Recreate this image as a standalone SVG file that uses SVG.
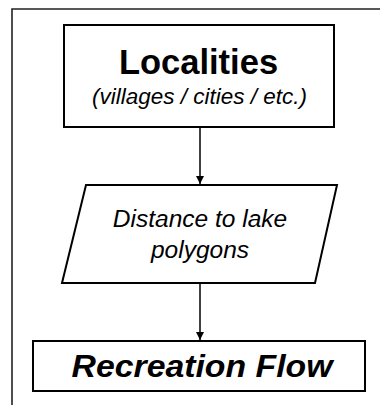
<svg xmlns="http://www.w3.org/2000/svg" width="380" height="405" viewBox="0 0 380 405">
<style>
.shape{fill:#fff;stroke:#000;stroke-width:2}
.frame{fill:none;stroke:#222;stroke-width:1.6}
.edge{stroke:#000;stroke-width:1.5;fill:none}
text{font-family:"Liberation Sans",Arial,sans-serif;text-anchor:middle;fill:#000}
</style>
<defs>
<marker id="arr" markerWidth="8" markerHeight="8" refX="8" refY="4" orient="auto" markerUnits="userSpaceOnUse">
<path d="M0,0 L8,4 L0,8 Z" fill="#000"/>
</marker>
</defs>
<rect x="0" y="0" width="380" height="405" fill="#fff"/>
<path class="frame" d="M12,405 V9 H380"/>
<g id="edges">
<line class="edge" x1="200" y1="128" x2="200" y2="184" marker-end="url(#arr)"/>
<line class="edge" x1="200" y1="283" x2="200" y2="340" marker-end="url(#arr)"/>
</g>
<g id="localities">
<rect class="shape" x="64" y="25" width="270" height="102"/>
<text x="198.5" y="74" font-size="34.5" font-weight="bold">Localities</text>
<text x="199.5" y="104" font-size="22.5" font-style="italic">(villages / cities / etc.)</text>
</g>
<g id="distance">
<polygon class="shape" points="86,185 337,185 315,283 62,283"/>
<text x="200" y="227" font-size="24.5" font-style="italic">Distance to lake</text>
<text x="200" y="258" font-size="24.5" font-style="italic">polygons</text>
</g>
<g id="recreation">
<rect class="shape" x="33" y="341" width="332" height="50"/>
<text x="202" y="377" font-size="31" font-weight="bold" font-style="italic" textLength="261" lengthAdjust="spacingAndGlyphs">Recreation Flow</text>
</g>
</svg>
